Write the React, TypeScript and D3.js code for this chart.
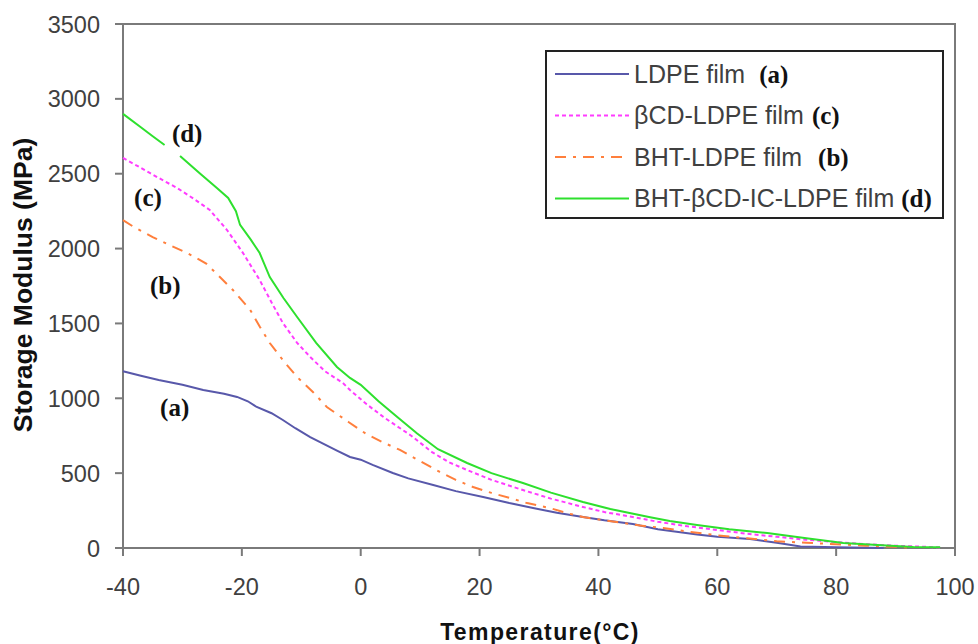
import React from 'react'
import {scaleLinear, line, curveLinear} from 'd3'

// temperature (°C), storage modulus (MPa)
const ldpe: [number, number][] = [
  [-40, 1180], [-37, 1150], [-34, 1122], [-30, 1090], [-26.5, 1055], [-23, 1030],
  [-20.8, 1009], [-19, 980], [-17.5, 942], [-15, 900], [-13.1, 855], [-11, 800],
  [-8.5, 741], [-6, 690], [-4, 650], [-1.8, 608], [0, 590], [2, 555], [5.4, 501],
  [8, 465], [12.2, 421], [16, 380], [20.6, 341], [25, 300], [29, 267], [33, 235],
  [37.4, 207], [41, 185], [45.8, 160], [50, 125], [56.6, 90], [60, 75], [65.5, 60],
  [70, 35], [74, 10], [80, 5], [88, 0]
]
const cdLdpe: [number, number][] = [
  [-40, 2605], [-37.5, 2550], [-35.5, 2505], [-33, 2450], [-30.9, 2405], [-28, 2330],
  [-25.4, 2258], [-22.5, 2124], [-19.8, 1970], [-17, 1790], [-15, 1640], [-13.1, 1503],
  [-10.7, 1370], [-8.5, 1276], [-6, 1180], [-3, 1102], [-1.8, 1055], [1, 960], [4, 870],
  [8.5, 750], [12, 640], [15, 570], [17.9, 521], [22, 455], [27.3, 387], [32, 330],
  [37.4, 274], [41, 240], [45.8, 207], [50, 175], [55, 145], [60, 120], [65, 95],
  [70, 75], [75, 55], [80, 40], [85, 25], [90, 15], [95, 8], [97.5, 3]
]
const bhtLdpe: [number, number][] = [
  [-40, 2190], [-38, 2140], [-35, 2077], [-32, 2020], [-29.2, 1970], [-26, 1900],
  [-23.7, 1810], [-21.5, 1723], [-18.6, 1590], [-17, 1480], [-15.3, 1369], [-13, 1250],
  [-10.7, 1142], [-8, 1040], [-5.7, 942], [-2, 840], [1, 760], [3.5, 710], [6.6, 655],
  [10, 580], [13.3, 508], [16, 455], [18.9, 407], [22, 368], [25.1, 334], [28, 300],
  [31.8, 267], [35, 230], [37.4, 207], [41, 185], [44.1, 167], [47, 150], [50.9, 134],
  [55, 110], [60, 85], [65, 65], [70, 45], [75, 35], [80, 25], [85, 15], [90, 8], [92.4, 3]
]
// null marks the break in the curve beside its (d) label
const icLdpe: ([number, number] | null)[] = [
  [-40, 2900], [-37, 2810], [-35, 2750], [-33, 2692], null, [-30.4, 2619], [-27, 2500],
  [-24.2, 2405], [-22.3, 2338], [-21, 2250], [-20.3, 2158], [-18.5, 2060], [-17, 1970],
  [-15.3, 1810], [-13, 1670], [-10.7, 1543], [-7.5, 1370], [-4, 1209], [-1.8, 1136],
  [0, 1090], [3, 980], [6, 880], [9.5, 765], [13, 660], [17.9, 568], [22, 500],
  [27.3, 434], [32, 370], [37.4, 307], [42, 260], [48.7, 205], [52, 180], [56.6, 154],
  [62, 125], [68.4, 100], [75, 65], [81.2, 33], [87, 20], [93, 7], [97.5, 5]
]

const xTicks = [-40, -20, 0, 20, 40, 60, 80, 100]
const yTicks = [0, 500, 1000, 1500, 2000, 2500, 3000, 3500]

const series = [
  {name: 'LDPE film', tag: '(a)', data: ldpe, color: '#5858aa', dash: undefined, gap: 14},
  {name: 'βCD-LDPE film', tag: '(c)', data: cdLdpe, color: '#ff3cff', dash: '4,3', gap: 8},
  {name: 'BHT-LDPE film', tag: '(b)', data: bhtLdpe, color: '#ff7f3c', dash: '11,7,3,7', gap: 16},
  {name: 'BHT-βCD-IC-LDPE film', tag: '(d)', data: icLdpe, color: '#2ee02e', dash: undefined, gap: 7}
]

// curve tags placed in the plot
const tags = [
  {label: '(d)', t: -29.2, v: 2712},
  {label: '(c)', t: -35.8, v: 2285},
  {label: '(b)', t: -32.9, v: 1697},
  {label: '(a)', t: -31.3, v: 882}
]

export default function App() {
  const W = 978, H = 644
  const x = scaleLinear().domain([-40, 100]).range([123, 955])
  const y = scaleLinear().domain([0, 3500]).range([548, 24])

  const path = line<[number, number] | null>()
    .defined(d => d !== null)
    .x(d => x(d![0]))
    .y(d => y(d![1]))
    .curve(curveLinear)

  const sans = 'Liberation Sans, Arial, sans-serif'
  const serif = 'Liberation Serif, Times New Roman, serif'

  return (
    <svg width={W} height={H} style={{position: 'absolute', left: 0, top: 0, background: '#fff'}}>
      {/* plot frame */}
      <rect x={x(-40)} y={y(3500)} width={x(100) - x(-40)} height={y(0) - y(3500)}
        fill="none" stroke="#7a7a7a" strokeWidth={2} />

      {/* y axis */}
      {yTicks.map(v => (
        <g key={v}>
          <line x1={x(-40) - 8} x2={x(-40)} y1={y(v)} y2={y(v)} stroke="#7a7a7a" strokeWidth={2} />
          <text x={100} y={y(v) + 8.5} textAnchor="end" fontFamily={sans} fontSize={23.5} fill="#404040">{v}</text>
        </g>
      ))}
      {/* x axis */}
      {xTicks.map(t => (
        <g key={t}>
          <line x1={x(t)} x2={x(t)} y1={y(0)} y2={y(0) + 8} stroke="#7a7a7a" strokeWidth={2} />
          <text x={x(t)} y={595} textAnchor="middle" fontFamily={sans} fontSize={23.5} fill="#404040">{t}</text>
        </g>
      ))}

      <text transform="translate(32,285) rotate(-90)" textAnchor="middle" fontFamily={sans}
        fontWeight="bold" fontSize={26.5} fill="#111">Storage Modulus (MPa)</text>
      <text x={540} y={640} textAnchor="middle" fontFamily={sans} fontWeight="bold"
        fontSize={23} letterSpacing={1.4} fill="#111">Temperature(°C)</text>

      {/* curves */}
      {series.map(s => (
        <path key={s.name} d={path(s.data as any) || ''} fill="none" stroke={s.color}
          strokeWidth={2} strokeDasharray={s.dash} />
      ))}

      {tags.map(d => (
        <text key={d.label} x={x(d.t)} y={y(d.v)} textAnchor="middle" fontFamily={serif}
          fontWeight="bold" fontSize={25} fill="#111">{d.label}</text>
      ))}

      {/* legend */}
      <rect x={546} y={51} width={397} height={167} fill="#fff" stroke="#222" strokeWidth={2} />
      {series.map((s, i) => {
        const ly = 74 + i * 41.5
        return (
          <g key={s.name}>
            <line x1={555} x2={629} y1={ly} y2={ly} stroke={s.color} strokeWidth={2} strokeDasharray={s.dash} />
            <text x={634} y={ly + 8.5} fontFamily={sans} fontSize={25} fill="#404040">
              {s.name}
              <tspan dx={s.gap} fontFamily={serif} fontWeight="bold" fontSize={25} fill="#111">{s.tag}</tspan>
            </text>
          </g>
        )
      })}
    </svg>
  )
}
